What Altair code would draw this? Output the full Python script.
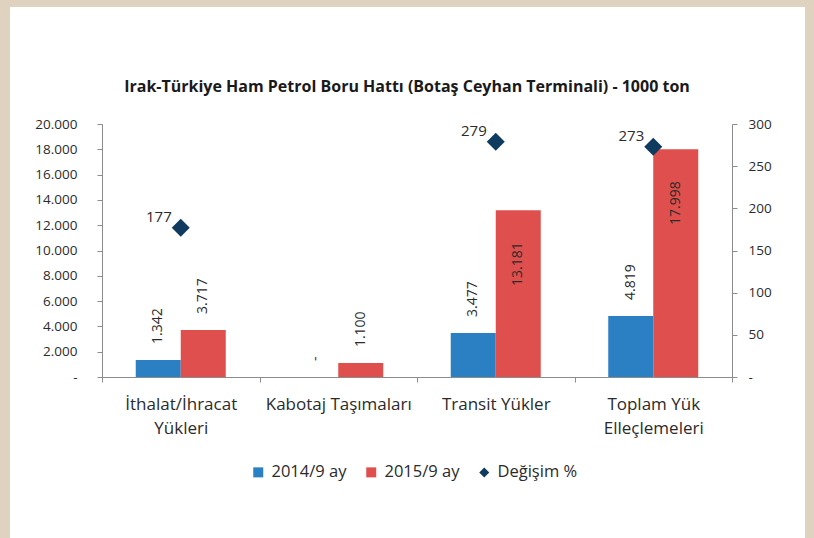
import json
import altair as alt
import pandas as pd

# ---------------- data ----------------
categories = ["İthalat/İhracat Yükleri", "Kabotaj Taşımaları", "Transit Yükler", "Toplam Yük Elleçlemeleri"]
category_lines = [["İthalat/İhracat", "Yükleri"], ["Kabotaj Taşımaları"], ["Transit Yükler"], ["Toplam Yük", "Elleçlemeleri"]]
series_names = ["2014/9 ay", "2015/9 ay"]
values_2014 = [1342, 0, 3477, 4819]
values_2015 = [3717, 1100, 13181, 17998]
change_name = "Değişim %"
change_pct = [177, None, 279, 273]
title_text = "Irak-Türkiye Ham Petrol Boru Hattı (Botaş Ceyhan Terminali) - 1000 ton"
left_ticks = list(range(0, 20001, 2000))
right_ticks = list(range(0, 301, 50))

# ---------------- style ----------------
BLUE = "#2b7fc3"
RED = "#df4f4d"
NAVY = "#0f3b5e"
BEIGE = "#dfd3bf"
TEXT = "#2b2b2b"
AXIS = "#8c8c8c"
FONT = "Open Sans"

bars_df = pd.DataFrame({
    "category": categories * 2,
    "series": [series_names[0]] * len(categories) + [series_names[1]] * len(categories),
    "value": values_2014 + values_2015,
})
change_df = pd.DataFrame({"category": categories, "change": change_pct})

x_label_expr = " : ".join(
    f"datum.label == {json.dumps(c, ensure_ascii=False)} ? {json.dumps(l, ensure_ascii=False)}"
    for c, l in zip(categories, category_lines)
) + " : datum.label"

num_expr = "datum.value == 0 ? '-' : replace(format(datum.value, ','), ',', '.')"

x_enc = alt.X(
    "category:N", sort=categories,
    scale=alt.Scale(paddingInner=0, paddingOuter=0),
    axis=alt.Axis(title=None, labelAngle=0, tickBand="extent", labelExpr=x_label_expr,
                  labelFont=FONT, labelFontSize=17, labelLineHeight=24, labelColor=TEXT,
                  labelPadding=14, tickSize=5, tickColor=AXIS, domainColor=AXIS, grid=False,
                  zindex=1),
)
xoff_enc = alt.XOffset("series:N", sort=series_names,
                       scale=alt.Scale(paddingOuter=0.75, paddingInner=0))

y_left = alt.Y(
    "value:Q", scale=alt.Scale(domain=[0, 20000]),
    axis=alt.Axis(title=None, values=left_ticks, labelExpr=num_expr, grid=False,
                  labelFont=FONT, labelFontSize=13.5, labelColor=TEXT, labelPadding=20,
                  tickSize=5, tickColor=AXIS, domainColor=AXIS, zindex=1),
)
y_right = alt.Y(
    "change:Q", scale=alt.Scale(domain=[0, 300]),
    axis=alt.Axis(title=None, orient="right", values=right_ticks, labelExpr=num_expr, grid=False,
                  labelFont=FONT, labelFontSize=13.5, labelColor=TEXT, labelPadding=11,
                  tickSize=5, tickColor=AXIS, domainColor=AXIS, zindex=1),
)

legend_domain = series_names + [change_name]
legend = alt.Legend(title=None, orient="none", legendX=148, legendY=340, direction="horizontal",
                    labelFont=FONT, labelFontSize=16.5, labelColor=TEXT, padding=0,
                    symbolSize=100, columnPadding=16, labelOffset=5,
                    symbolStrokeWidth=0)
color_enc = alt.Color("series:N",
                      scale=alt.Scale(domain=legend_domain, range=[BLUE, RED, NAVY]),
                      legend=legend)
shape_enc = alt.Shape("series:N",
                      scale=alt.Scale(domain=legend_domain, range=["square", "square", "diamond"]),
                      legend=legend)

panel = alt.Chart(pd.DataFrame({"k": [0]})).mark_rect(color="white").encode(
    x=alt.value(-92), x2=alt.value(703), y=alt.value(-117), y2=alt.value(414)
)

base_bars = alt.Chart(bars_df).transform_calculate(
    lbl="datum.value == 0 ? '-' : replace(format(datum.value, ','), ',', '.')"
)
bars = base_bars.mark_bar().encode(x=x_enc, xOffset=xoff_enc, y=y_left, color=color_enc)
labels_out = base_bars.transform_filter("datum.value < 10000").mark_text(
    angle=270, align="left", baseline="middle", dx=16, font=FONT, fontSize=14, color=TEXT
).encode(x=x_enc, xOffset=xoff_enc, y=y_left, text="lbl:N")
labels_in = base_bars.transform_filter("datum.value >= 10000").mark_text(
    angle=270, align="right", baseline="middle", dx=-32, font=FONT, fontSize=14, color=TEXT
).encode(x=x_enc, xOffset=xoff_enc, y=y_left, text="lbl:N")

left = alt.layer(bars, labels_out, labels_in)

base_change = alt.Chart(change_df).transform_filter("isValid(datum.change)").transform_calculate(
    series=f"'{change_name}'"
)
points = base_change.mark_point(filled=True, size=324, opacity=1).encode(
    x=x_enc, y=y_right, color=color_enc, shape=shape_enc
)
point_labels = base_change.mark_text(
    align="right", baseline="alphabetic", dx=-9, dy=-6, font=FONT, fontSize=15, color=TEXT
).encode(x=x_enc, y=y_right, text=alt.Text("change:Q", format="d"))
right = alt.layer(points, point_labels)

chart = alt.layer(panel, left, right).resolve_scale(y="independent").properties(
    width=630, height=253,
    autosize=alt.AutoSizeParams(type="none"),
    padding={"left": 102, "top": 124, "right": 82, "bottom": 161},
    background=BEIGE,
    title=alt.TitleParams(title_text, font=FONT, fontSize=16, fontWeight="bold", color="#1a1a1a",
                          anchor="middle", offset=0, dy=88, dx=-10),
).configure_view(stroke=None)

chart.save("out.html", embed_options={"renderer": "svg", "actions": False})
